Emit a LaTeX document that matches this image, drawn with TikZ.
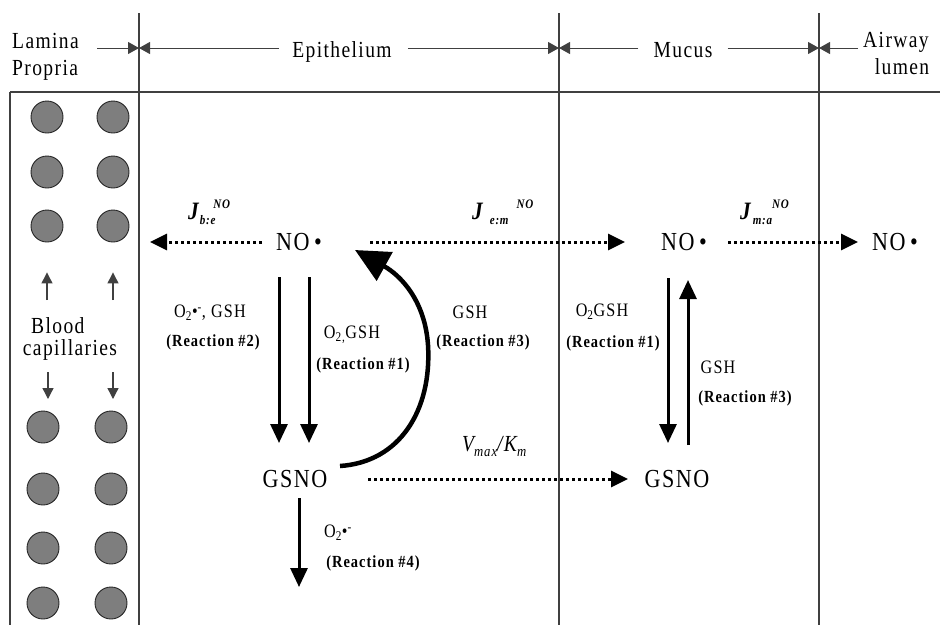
\documentclass[tikz,border=0pt]{standalone}
\usepackage{fontspec}
\setmainfont[LetterSpace=6,FakeStretch=0.85]{Liberation Serif}
\usetikzlibrary{arrows.meta,calc}
\definecolor{rulecol}{HTML}{404040}
\definecolor{capfill}{HTML}{7E7E7E}
\newcommand{\Orad}{O\textsubscript{2}•\textsuperscript{-}}
\newcommand{\Jflux}[4]{{\fontsize{25}{25}\selectfont J}\hspace{#3}\raisebox{-5pt}{\fontsize{13}{13}\selectfont #1}\hspace{#4}\raisebox{11pt}{\fontsize{13}{13}\selectfont #2}}
\begin{document}
\begin{tikzpicture}[x=1pt,y=-1pt,
  rulel/.style={draw=rulecol,line width=1.1pt},
  dimarr/.style={draw=rulecol,line width=1pt,-{Triangle[length=11pt,width=12pt]}},
  hdr/.style={font=\fontsize{23}{26}\selectfont,inner sep=0pt},
  spec/.style={font=\fontsize{26}{28}\selectfont,inner sep=0pt},
  lab/.style={font=\fontsize{19}{22}\selectfont,inner sep=0pt},
  rlab/.style={font=\fontsize{17}{20}\selectfont\bfseries,inner sep=0pt},
  flux/.style={font=\bfseries\itshape,inner sep=0pt,anchor=base west},
  vessel/.style={circle,draw=black!85,line width=0.9pt,fill=capfill,minimum size=32pt,inner sep=0pt},
  caparr/.style={draw=rulecol,line width=1.3pt,-{Triangle[length=11pt,width=11pt]}},
  dotarr/.style={line width=3pt,dash pattern=on 3pt off 3pt,-{Triangle[length=17pt,width=16pt]}},
  thickarr/.style={line width=3pt,-{Triangle[length=19pt,width=17pt]}},
  curvearr/.style={line width=4.5pt,-{Triangle[length=34pt,width=32pt]}}
]
\useasboundingbox (0,0) rectangle (940,625);

% frame lines
\coordinate (tl) at (10,92);
\coordinate (tr) at (940,92);
\coordinate (bl) at (10,625);
\draw[rulel] (tl) -- (tr);
\draw[rulel] (tl) -- (bl);
\coordinate (vA) at (139,13); \coordinate (vAb) at (139,625);
\coordinate (vB) at (559,13); \coordinate (vBb) at (559,625);
\coordinate (vC) at (819,13); \coordinate (vCb) at (819,625);
\draw[rulel] (vA) -- (vAb);
\draw[rulel] (vB) -- (vBb);
\draw[rulel] (vC) -- (vCb);

% header
\node[hdr,anchor=base west] (hLam) at (12,48) {Lamina};
\node[hdr,anchor=base west] (hPro) at (12,75) {Propria};
\node[hdr,anchor=base] (hEpi) at (342,57) {Epithelium};
\node[hdr,anchor=base] (hMuc) at (683,57) {Mucus};
\node[hdr,anchor=base west] (hAir) at (863,47) {Airway};
\node[hdr,anchor=base] (hLum) at (902,74) {lumen};
\coordinate (dA) at (139,48);
\coordinate (dB) at (559,48);
\coordinate (dC) at (819,48);
\draw[dimarr] ($(hLam.east |- dA)+(18,0)$) -- (dA);
\draw[dimarr] ($(hEpi.west |- dA)+(-13,0)$) -- (dA);
\draw[dimarr] ($(hEpi.east |- dB)+(16,0)$) -- (dB);
\draw[dimarr] ($(hMuc.west |- dB)+(-15,0)$) -- (dB);
\draw[dimarr] ($(hMuc.east |- dC)+(15,0)$) -- (dC);
\draw[dimarr] ($(hAir.west |- dC)+(-5,0)$) -- (dC);

% capillaries
\node[vessel] (c1a) at (47,117) {};
\node[vessel] (c1b) at (113,117) {};
\node[vessel] (c2a) at (47,172) {};
\node[vessel] (c2b) at (113,172) {};
\node[vessel] (c3a) at (47,226) {};
\node[vessel] (c3b) at (113,226) {};
\node[vessel] (c4a) at (43,427) {};
\node[vessel] (c4b) at (111,427) {};
\node[vessel] (c5a) at (43,489) {};
\node[vessel] (c5b) at (111,489) {};
\node[vessel] (c6a) at (43,548) {};
\node[vessel] (c6b) at (111,548) {};
\node[vessel] (c7a) at (43,603) {};
\node[vessel] (c7b) at (111,603) {};
\node[font=\fontsize{23}{24}\selectfont,anchor=base west,inner sep=0pt] (blood) at (31,333) {Blood};
\node[font=\fontsize{23}{24}\selectfont,anchor=base,inner sep=0pt] (capl) at (70,355) {capillaries};
\coordinate (ua1) at (47,300); \coordinate (ua2) at (113,300);
\draw[caparr,shorten >=30pt] (ua1) -- (c3a);
\draw[caparr,shorten >=30pt] (ua2) -- (c3b);
\coordinate (da1) at (48,372); \coordinate (da1e) at (48,399);
\coordinate (da2) at (113,372); \coordinate (da2e) at (113,399);
\draw[caparr] (da1) -- (da1e);
\draw[caparr] (da2) -- (da2e);

% species
\node[spec] (noE) at (299,242) {NO\,•};
\node[spec] (noM) at (684,242) {NO\,•};
\node[spec] (noA) at (895,242) {NO\,•};
\node[spec] (gsnoE) at (295,479) {GSNO};
\node[spec] (gsnoM) at (677,479) {GSNO};
\coordinate (jb) at (150,242);

% dotted fluxes
\draw[dotarr,shorten <=37pt] (noE.center) -- (jb);
\draw[dotarr,shorten <=71pt,shorten >=59pt] (noE.center) -- (noM.center);
\draw[dotarr,shorten <=44pt,shorten >=37pt] (noM.center) -- (noA.center);
\draw[dotarr,shorten <=73pt,shorten >=49pt] (gsnoE.center) -- (gsnoM.center);

% flux labels
\node[flux] (Jbe) at (188,219) {\Jflux{b:e}{NO}{1pt}{-2pt}};
\node[flux] (Jem) at (472,219) {\Jflux{e:m}{NO}{7pt}{8pt}};
\node[flux] (Jma) at (740,219) {\Jflux{m:a}{NO}{2pt}{0pt}};
\node[anchor=base west,inner sep=0pt,font=\fontsize{23}{24}\selectfont\itshape] (vk) at (462,451)
  {V\raisebox{-5pt}{\fontsize{15}{15}\selectfont max}/K\raisebox{-5pt}{\fontsize{15}{15}\selectfont m}};

% epithelium reactions
\draw[thickarr] ([xshift=-20pt,yshift=-35pt]noE.center) -- ([xshift=-16pt,yshift=36pt]gsnoE.center);
\draw[thickarr] ([xshift=10pt,yshift=-35pt]noE.center) -- ([xshift=14pt,yshift=36pt]gsnoE.center);
\draw[curvearr] ([xshift=45pt,yshift=13pt]gsnoE.center) .. controls (400,462) and (432,410) .. (428,345)
  .. controls (425,300) and (400,275) .. ([xshift=56pt,yshift=-8pt]noE.center);
\coordinate (r4end) at (299,587);
\draw[thickarr] ([xshift=4pt,yshift=-19pt]gsnoE.center) -- (r4end);

% mucus reactions
\draw[thickarr] ([xshift=-16pt,yshift=-36pt]noM.center) -- ([xshift=-9pt,yshift=36pt]gsnoM.center);
\draw[thickarr] ([xshift=11pt,yshift=34pt]gsnoM.center) -- ([xshift=4pt,yshift=-38pt]noM.center);

% reaction labels
\node[lab] (l2) at (210,313) {\Orad, GSH};
\node[rlab] (r2) at (213,342) {(Reaction \#2)};
\node[lab] (l1) at (352,335) {O\textsubscript{2,}GSH};
\node[rlab] (r1) at (363,365) {(Reaction \#1)};
\node[lab] (l3) at (470,312) {GSH};
\node[rlab] (r3) at (483,342) {(Reaction \#3)};
\node[lab] (l1m) at (602,312) {O\textsubscript{2}GSH};
\node[rlab] (r1m) at (613,343) {(Reaction \#1)};
\node[lab] (l3m) at (718,367) {GSH};
\node[rlab] (r3m) at (745,398) {(Reaction \#3)};
\node[lab] (l4) at (338,533) {\Orad};
\node[rlab] (r4) at (373,563) {(Reaction \#4)};
\end{tikzpicture}
\end{document}
